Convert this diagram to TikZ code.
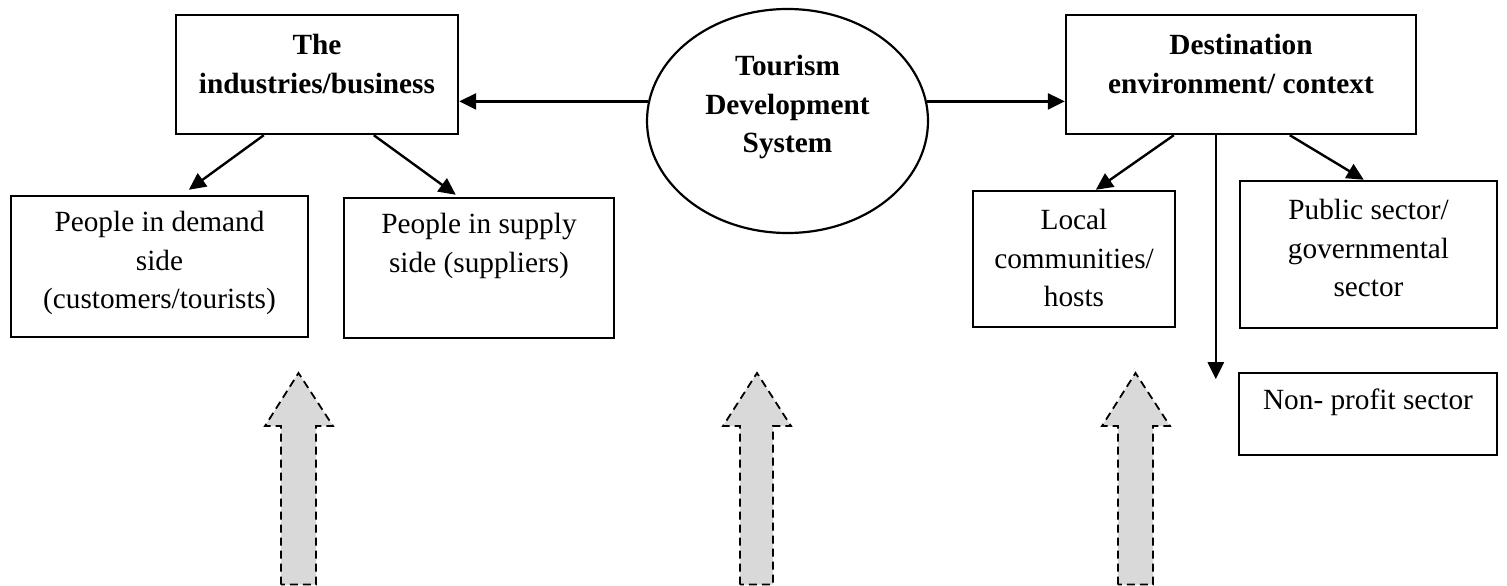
\documentclass[tikz,border=0pt]{standalone}
\usepackage{fontspec}
\setmainfont{Liberation Serif}
\usetikzlibrary{arrows.meta,shapes.geometric,calc}
\begin{document}
\begin{tikzpicture}[x=1pt,y=-1pt,
  box/.style={draw, line width=2.4pt, inner sep=0pt, rectangle},
  txt/.style={align=center, inner sep=0pt, font=\fontsize{29.3pt}{38.5pt}\selectfont},
  btxt/.style={txt, font=\fontsize{29.3pt}{38.5pt}\selectfont\bfseries},
  arr/.style={line width=2.4pt, -{Triangle[length=17pt,width=16pt]}},
  barrow/.style={draw, fill=black!15, line width=1.8pt, dash pattern=on 8pt off 5pt}
]
\useasboundingbox (0,0) rectangle (1507,586);

% top row
\node[box, minimum width=282pt, minimum height=119pt] (ind) at (317,74.5) {};
\node[btxt] (indT) at (317,64) {The\\industries/business};

\node[draw, ellipse, line width=2.2pt, inner sep=0pt, minimum width=281pt, minimum height=224pt] (tds) at (787.5,121) {};
\node[btxt] (tdsT) at (787.5,107) {Tourism\\Development\\System};

\node[box, minimum width=350pt, minimum height=119pt] (dest) at (1241,74.5) {};
\node[btxt] (destT) at (1241,64) {Destination\\environment/ context};

% second row
\node[box, minimum width=297pt, minimum height=141pt] (dem) at (159.5,266.5) {};
\node[txt] (demT) at (159.5,263) {People in demand\\side\\(customers/tourists)};

\node[box, minimum width=270pt, minimum height=140pt] (sup) at (479,268) {};
\node[txt] (supT) at (479,246) {People in supply\\side (suppliers)};

\node[box, minimum width=202pt, minimum height=136pt] (loc) at (1074,259) {};
\node[txt] (locT) at (1074,258) {Local\\communities/\\hosts};

\node[box, minimum width=257pt, minimum height=147pt] (pub) at (1368.5,254.5) {};
\node[txt] (pubT) at (1368.5,248) {Public sector/\\governmental\\sector};

\node[box, minimum width=258pt, minimum height=82pt] (non) at (1368,414) {};
\node[txt] (nonT) at (1368,402) {Non- profit sector};

% connectors
\draw[arr] (tds.172) -- (tds.172 -| ind.east);
\draw[arr] (tds.8) -- (tds.8 -| dest.west);
\draw[arr] ($(ind.south west)+(89,0)$) -- ($(dem.north west)+(179,-5)$);
\draw[arr] ($(ind.south west)+(199,0)$) -- ($(sup.north west)+(113,-2)$);
\draw[arr] ($(dest.south west)+(109,0)$) -- ($(loc.north west)+(124,0)$);
\draw[arr] ($(dest.south west)+(225,0)$) -- ($(pub.north west)+(125,0)$);
\coordinate (vend) at ($(dest.south west)+(151,244)$);
\draw[arr] ($(dest.south west)+(151,0)$) -- (vend);

% block arrows
\draw[barrow] (281,584.5) -- (281,426) -- (265,426) -- (298.5,373) -- (333,426) -- (316,426) -- (316,584.5) -- cycle;
\draw[barrow] (740,584.5) -- (740,426) -- (723,426) -- (757,373) -- (791,426) -- (773,426) -- (773,584.5) -- cycle;
\draw[barrow] (1118,584.5) -- (1118,426) -- (1102,426) -- (1135.5,373) -- (1170,426) -- (1153,426) -- (1153,584.5) -- cycle;
\end{tikzpicture}
\end{document}
